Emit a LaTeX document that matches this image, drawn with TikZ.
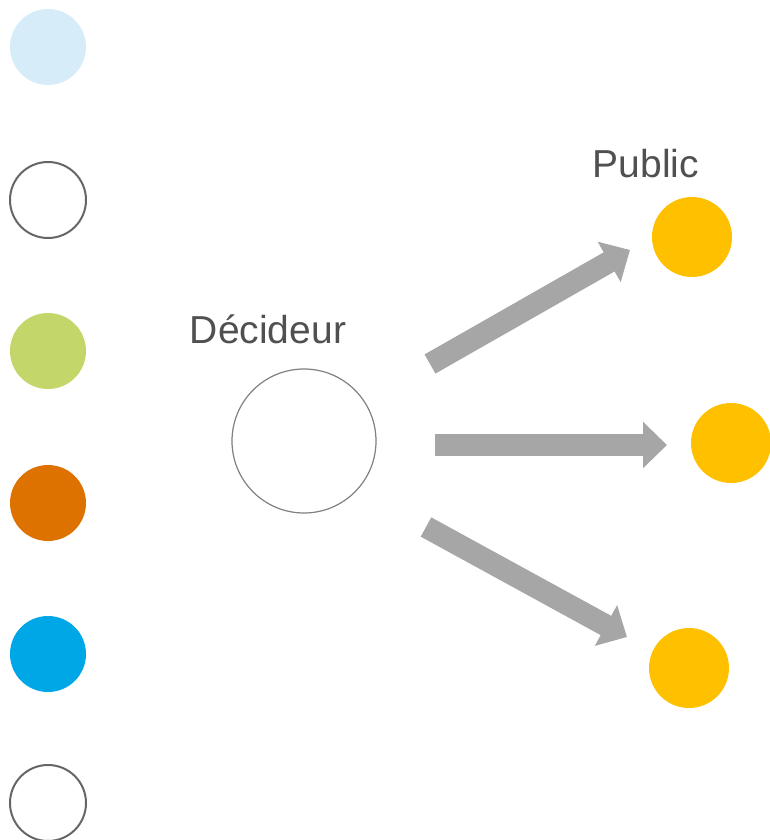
\documentclass[tikz,border=0pt]{standalone}
\usepackage{fontspec}
\setmainfont{Liberation Sans}
\usetikzlibrary{arrows.meta}

\definecolor{LightBlue}{HTML}{D6ECF9}
\definecolor{LeafGreen}{HTML}{C3D66A}
\definecolor{DeepOrange}{HTML}{DE7200}
\definecolor{SkyBlue}{HTML}{00A7E7}
\definecolor{Gold}{HTML}{FFC000}
\definecolor{ArrowGray}{HTML}{A6A6A6}
\definecolor{TextGray}{HTML}{505050}

\tikzset{
    legend/.style={circle, minimum size=76pt, inner sep=0pt},
    ring/.style={legend, draw=black!60, line width=2pt},
    public/.style={circle, fill=Gold, minimum size=80pt, inner sep=0pt},
    fat arrow/.style={draw=ArrowGray, line width=22pt, -{Triangle[width=45pt, length=24pt]}},
    caption/.style={text=TextGray, font=\fontsize{39}{47}\selectfont, anchor=base}
}

\begin{document}
\begin{tikzpicture}[x=1pt, y=-1pt]
    \useasboundingbox (0,0) rectangle (770,840);
    % legend column
    \foreach \i/\y/\c in {1/47/LightBlue, 3/351/LeafGreen, 4/503/DeepOrange, 5/654/SkyBlue} {
        \node[legend, fill=\c] (leg\i) at (48,\y) {};
    }
    \node[ring] (leg2) at (48,200) {};
    \node[ring] (leg6) at (48,803) {};
    \node[circle, draw=black!50, line width=1.2pt, minimum size=144pt, inner sep=0pt] (dec) at (304,441) {};
    \node[caption] (declabel) at (268,343) {Décideur};
    \node[caption] (publabel) at (646,177) {Public};
    \node[public] (pub1) at (692,237) {};
    \node[public] (pub2) at (731,443) {};
    \node[public] (pub3) at (689,668) {};
    \coordinate (s1) at (430,364);
    \coordinate (e1) at (630,250);
    \coordinate (s2) at (435,445);
    \coordinate (e2) at (667,445);
    \coordinate (s3) at (426,527);
    \coordinate (e3) at (627,637);
    \foreach \k in {1,2,3} {\draw[fat arrow] (s\k) -- (e\k);} % one block arrow per public
\end{tikzpicture}
\end{document}
